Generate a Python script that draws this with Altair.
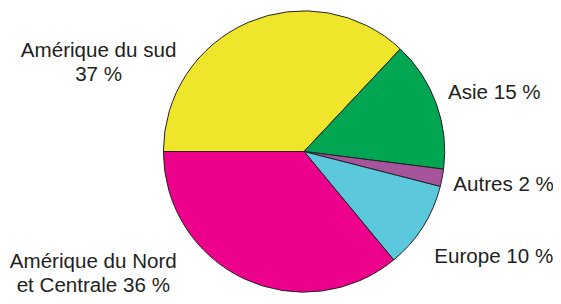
import math
import altair as alt
import pandas as pd

# Data
regions = ["Amérique du sud", "Asie", "Autres", "Europe", "Amérique du Nord et Centrale"]
shares = [37, 15, 2, 10, 36]
labels = ["Amérique du sud\n37 %", "Asie 15 %", "Autres 2 %", "Europe 10 %",
          "Amérique du Nord\net Centrale 36 %"]
colors = ["#EFE62C", "#00A651", "#A6559D", "#5CC8DC", "#EC008C"]

df = pd.DataFrame({"region": regions, "share": shares, "label": labels,
                   "idx": list(range(len(regions)))})

# Styles: label offsets (pixels) and alignment
label_style = {
    "Amérique du sud": dict(dx=-148, dy=46, align="center"),
    "Asie": dict(dx=1, dy=-1, align="left"),
    "Autres": dict(dx=0, dy=11, align="left"),
    "Europe": dict(dx=2, dy=31, align="left"),
    "Amérique du Nord et Centrale": dict(dx=-149, dy=-21, align="center"),
}

theta_scale = alt.Scale(domain=[0, 100], range=[1.5 * math.pi, 3.5 * math.pi])
color_scale = alt.Scale(domain=regions, range=colors)

base = alt.Chart(df).transform_stack(
    stack="share", as_=["v0", "v1"], groupby=[], sort=[alt.SortField("idx")]
)

arcs = base.mark_arc(stroke="#231F20", strokeWidth=1, outerRadius=143.5).encode(
    theta=alt.Theta("v0:Q", scale=theta_scale),
    theta2="v1:Q",
    color=alt.Color("region:N", scale=color_scale, legend=None),
)

layers = [arcs]
for r in regions:
    st = label_style[r]
    t = base.transform_calculate(mid="(datum.v0 + datum.v1) / 2").transform_filter(
        alt.datum.region == r
    ).mark_text(
        font="Liberation Sans", fontSize=21, color="#231F20", lineBreak="\n",
        lineHeight=24, baseline="alphabetic", align=st["align"], dx=st["dx"], dy=st["dy"],
    ).encode(
        theta=alt.Theta("mid:Q", scale=theta_scale),
        radius=alt.value(155),
        text="label:N",
    )
    layers.append(t)

chart = alt.layer(*layers).properties(
    width=288, height=287,
    autosize=alt.AutoSizeParams(type="none"),
    padding={"left": 158, "top": 0, "right": 110, "bottom": 1},
).configure_view(stroke=None)

chart.save("out.html", embed_options={"renderer": "svg", "actions": False})
